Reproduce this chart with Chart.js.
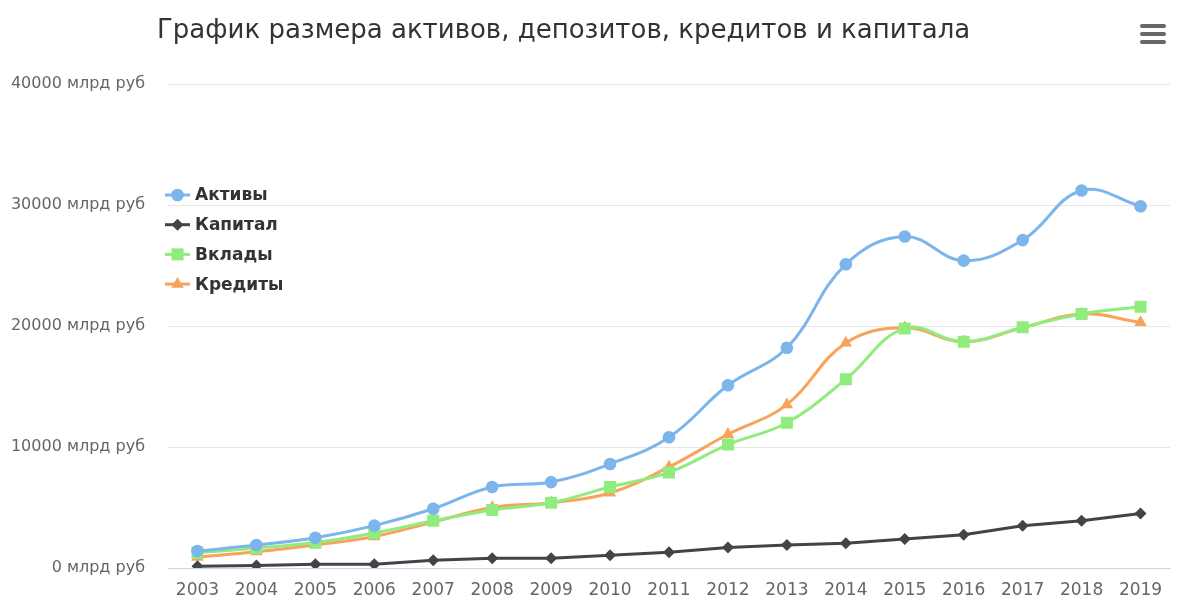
<!DOCTYPE html>
<html lang="ru">
<head>
    <meta charset="UTF-8">
    <title>Активы, депозиты, кредиты и капитал</title>
    <style>
        html, body {
            margin: 0;
            padding: 0;
            background: #fff;
        }

        #wrap {
            position: relative;
            width: 1200px;
            height: 604px;
        }

        #title {
            position: absolute;
            left: 157px;
            top: 14px;
            margin: 0;
            font-family: "DejaVu Sans", sans-serif;
            font-weight: normal;
            font-size: 26px;
            color: #333;
            white-space: nowrap;
        }

        #menu {
            position: absolute;
            left: 1140px;
            top: 24px;
            width: 26px;
        }

        #menu span {
            display: block;
            height: 4px;
            margin-bottom: 4px;
            border-radius: 2px;
            background: #666;
        }
    </style>
</head>
<body>
<div id="wrap">
    <canvas id="bank-chart" width="1200" height="604"></canvas>
    <h1 id="title">График размера активов, депозитов, кредитов и капитала</h1>
    <div id="menu"><span></span><span></span><span></span></div>
</div>
<script src="https://cdn.jsdelivr.net/npm/chart.js@4.4.1/dist/chart.umd.min.js"></script>
<script>
    const years = ["2003", "2004", "2005", "2006", "2007", "2008", "2009", "2010", "2011",
        "2012", "2013", "2014", "2015", "2016", "2017", "2018", "2019"];

    // млрд руб
    const assets = [1400, 1900, 2500, 3500, 4900, 6700, 7100, 8600, 10800,
        15100, 18200, 25100, 27400, 25400, 27100, 31200, 29900];
    const capital = [150, 200, 300, 300, 650, 800, 800, 1050, 1300,
        1700, 1900, 2050, 2400, 2750, 3500, 3900, 4500];
    const deposits = [1250, 1650, 2100, 2900, 3900, 4800, 5400, 6700, 7900,
        10200, 12000, 15600, 19800, 18700, 19900, 21000, 21600];
    const loans = [900, 1350, 1900, 2600, 3800, 5000, 5400, 6200, 8350,
        11050, 13500, 18600, 19850, 18700, 19850, 21000, 20300];

    const yTicks = [0, 10000, 20000, 30000, 40000];

    const FONT = "'DejaVu Sans', sans-serif";

    function series(label, data, color, style, radius, tension) {
        return {
            label: label,
            data: data,
            borderColor: color,
            backgroundColor: color,
            borderWidth: 3,
            pointStyle: style,
            pointRadius: radius,
            pointHoverRadius: radius,
            pointBorderWidth: 0,
            tension: tension
        };
    }

    // legend drawn inside the plot area, on the left
    const innerLegend = {
        id: "innerLegend",
        afterDraw(chart) {
            const ctx = chart.ctx;
            const x0 = 165, y0 = 195, step = 29.7;
            ctx.save();
            chart.data.datasets.forEach((ds, i) => {
                const y = y0 + i * step;
                ctx.strokeStyle = ds.borderColor;
                ctx.fillStyle = ds.borderColor;
                ctx.lineWidth = 3;
                ctx.beginPath();
                ctx.moveTo(x0, y);
                ctx.lineTo(x0 + 25, y);
                ctx.stroke();
                Chart.helpers.drawPoint(ctx, {
                    pointStyle: ds.pointStyle,
                    radius: ds.pointRadius,
                    rotation: 0,
                    borderWidth: 0
                }, x0 + 12.5, y);
                ctx.fillStyle = "#333";
                ctx.font = "bold 17px " + FONT;
                ctx.textBaseline = "middle";
                ctx.textAlign = "left";
                ctx.fillText(ds.label, x0 + 30, y + 1);
            });
            ctx.restore();
        }
    };

    new Chart("bank-chart", {
        type: "line",
        data: {
            labels: years,
            datasets: [
                series("Активы", assets, "#7cb5ec", "circle", 6.3, 0.4),
                series("Капитал", capital, "#434348", "rectRot", 6, 0),
                series("Вклады", deposits, "#90ed7d", "rect", 8.5, 0.4),
                series("Кредиты", loans, "#f7a35c", "triangle", 7.2, 0.4)
            ]
        },
        options: {
            responsive: false,
            animation: false,
            layout: {
                padding: {top: 84, left: 8, right: 30, bottom: 0}
            },
            plugins: {
                legend: {display: false},
                title: {display: false},
                tooltip: {enabled: false}
            },
            scales: {
                x: {
                    offset: true,
                    afterFit(scale) {
                        scale.height = 36;
                    },
                    grid: {display: false, drawTicks: false},
                    border: {display: true, color: "#ccd6eb", width: 1},
                    ticks: {
                        color: "#666",
                        padding: 12,
                        maxRotation: 0,
                        autoSkip: false,
                        font: {family: FONT, size: 17}
                    }
                },
                y: {
                    min: 0,
                    max: 40000,
                    afterFit(scale) {
                        scale.width = 160;
                    },
                    afterBuildTicks(scale) {
                        scale.ticks = yTicks.map(v => ({value: v}));
                    },
                    grid: {color: "#e6e6e6", lineWidth: 1, drawTicks: false},
                    border: {display: false},
                    ticks: {
                        color: "#666",
                        padding: 23,
                        font: {family: FONT, size: 16},
                        callback: v => v + " млрд руб"
                    }
                }
            }
        },
        plugins: [innerLegend]
    });
</script>
</body>
</html>
